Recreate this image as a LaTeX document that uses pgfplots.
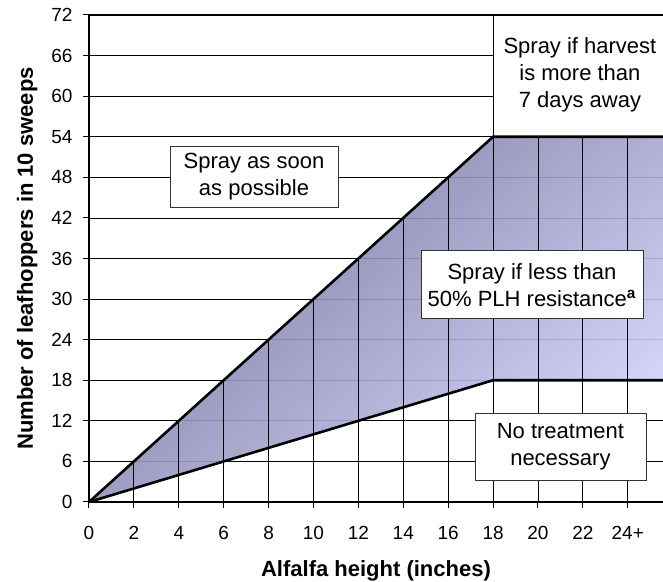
\documentclass[border=0pt]{standalone}
\usepackage{pgfplots}
\pgfplotsset{compat=1.18}
\usepackage{fontspec}
\setmainfont{Liberation Sans}
\definecolor{shdark}{RGB}{108,108,150}
\definecolor{shlight}{RGB}{208,208,248}
\begin{document}
\begin{tikzpicture}
\begin{axis}[
  name=ax, at={(0,0)}, anchor=south west,
  scale only axis, width=574pt, height=487pt,
  xmin=0, xmax=25.57, ymin=0, ymax=72,
  axis x line*=bottom, axis y line*=left,
  axis line style={line width=1.4pt, black, -},
  xtick={0,2,...,24},
  xticklabels={0,2,4,6,8,10,12,14,16,18,20,22,24+},
  ytick={0,6,...,72},
  tick align=outside, major tick length=6pt,
  tick style={black, line width=1pt},
  ymajorgrids, grid style={black, line width=0.8pt},
  tick label style={font=\fontsize{19}{22}\selectfont},
  xticklabel style={yshift=-15pt},
  yticklabel style={xshift=-7pt},
  /pgf/number format/assume math mode=true,
  xlabel={Alfalfa height (inches)},
  ylabel={Number of leafhoppers in 10 sweeps},
  label style={font=\fontsize{22}{26}\selectfont\bfseries},
  xlabel style={at={(axis description cs:0.5,-0.154)}, anchor=base},
  ylabel style={at={(axis description cs:-0.0976,0.5)}, anchor=base},
  clip=false,
]
\addplot[fill=white, draw=none, no markers] coordinates {(18,54) (25.57,54) (25.57,72) (18,72)} -- cycle;
\addplot[draw=none, no markers, fill opacity=0.9, top color=shdark, bottom color=shlight, shading angle=40]
  coordinates {(0,0) (18,54) (25.57,54) (25.57,18) (18,18) (0,0)} -- cycle;
\addplot[ycomb, black, line width=0.8pt, no markers]
  coordinates {(2,6) (4,12) (6,18) (8,24) (10,30) (12,36) (14,42) (16,48) (18,72) (20,54) (22,54) (24,54)};
\addplot[black, line width=2.6pt, no markers] coordinates {(0,0) (18,54) (25.57,54)};
\addplot[black, line width=2.6pt, no markers] coordinates {(0,0) (18,18) (25.57,18)};
\addplot[black, line width=1.4pt, no markers] coordinates {(0,72) (25.57,72)};
\node[draw=black!80, fill=white, line width=0.8pt, align=center, font=\fontsize{22}{27}\selectfont,
  minimum width=168pt, minimum height=61pt, inner sep=0pt] at (axis cs:7.35,48.05) {Spray as soon\\as possible};
\node[align=center, font=\fontsize{22}{27}\selectfont, inner sep=0pt] at (axis cs:21.87,63.2)
  {Spray if harvest\\is more than\\7 days away};
\node[draw=black!80, fill=white, line width=0.8pt, align=center, font=\fontsize{22}{27}\selectfont,
  minimum width=222pt, minimum height=68pt, inner sep=0pt] at (axis cs:19.73,32.1)
  {Spray if less than\\50\% PLH resistance\textsuperscript{\textbf{a}}};
\node[draw=black!80, fill=white, line width=0.8pt, align=center, font=\fontsize{22}{27}\selectfont,
  minimum width=171pt, minimum height=67pt, inner sep=0pt] at (axis cs:21.0,8.2)
  {No treatment\\necessary};
\end{axis}
\pgfresetboundingbox
\path ([xshift=-89pt,yshift=-80pt]ax.south west) rectangle ([yshift=15pt]ax.north east);
\end{tikzpicture}
\end{document}
